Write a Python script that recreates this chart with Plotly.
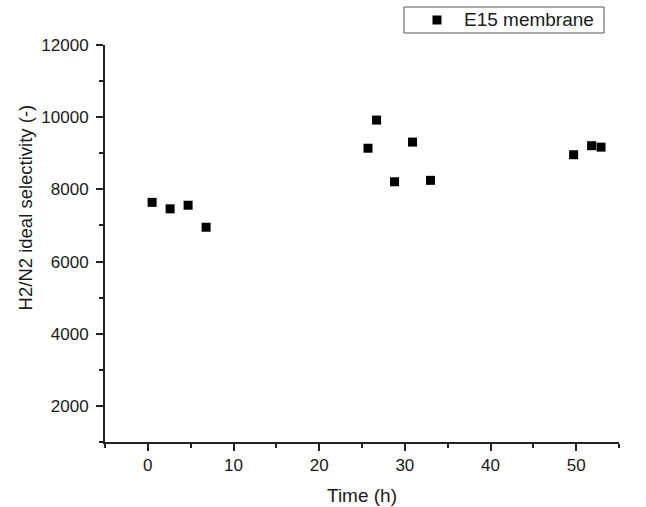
import plotly.graph_objects as go

# Time on stream (h) and measured H2/N2 ideal selectivity for the E15 membrane
time_h = [0.5, 2.6, 4.7, 6.8, 25.7, 26.7, 28.8, 30.9, 33.0, 49.7, 51.8, 52.9]
selectivity = [7640, 7460, 7560, 6950, 9140, 9920, 8210, 9310, 8250, 8960, 9210, 9170]
series_name = "E15 membrane"

x_ticks = [0, 10, 20, 30, 40, 50]
y_ticks = [2000, 4000, 6000, 8000, 10000, 12000]

font_family = "Liberation Sans, Arial, sans-serif"
axis_color = "#222222"
text_color = "#1a1a1a"

fig = go.Figure()
fig.add_trace(go.Scatter(
    x=time_h, y=selectivity, mode="markers", name=series_name, showlegend=False,
    marker=dict(symbol="square", size=9, color="black", line=dict(width=0)),
))

axis_common = dict(
    showline=True, linecolor=axis_color, linewidth=2,
    ticks="outside", ticklen=7, tickwidth=2, tickcolor=axis_color,
    showgrid=False, zeroline=False, mirror=False, automargin=False,
    tickfont=dict(family=font_family, size=17, color=text_color),
    minor=dict(ticks="outside", ticklen=4, tickwidth=1.5, tickcolor=axis_color, showgrid=False),
)

fig.update_xaxes(
    range=[-5, 55], tickvals=x_ticks, minor_dtick=5,
    title=dict(text="Time (h)", font=dict(family=font_family, size=19, color=text_color), standoff=14),
    **axis_common,
)
fig.update_yaxes(
    range=[1000, 12000], tickvals=y_ticks, minor_dtick=1000, tickformat="d",
    ticklabelstandoff=4,
    **axis_common,
)

# y-axis title placed as a rotated annotation
fig.add_annotation(
    text="H2/N2 ideal selectivity (-)", textangle=-90,
    xref="paper", yref="paper", x=-0.1556, y=0.591,
    xanchor="center", yanchor="middle", showarrow=False,
    font=dict(family=font_family, size=18.5, color=text_color),
)

# Compact legend box above the plot area: frame, symbol and label
fig.add_shape(type="rect", xref="paper", yref="paper",
              x0=0.5817, x1=0.9708, y0=1.0302, y1=1.0957,
              line=dict(color="#555555", width=1), fillcolor="white", layer="above")
fig.add_shape(type="rect", xref="paper", yref="paper",
              x0=0.6459 - 0.00875, x1=0.6459 + 0.00875,
              y0=1.0630 - 0.01134, y1=1.0630 + 0.01134,
              line=dict(width=0), fillcolor="black", layer="above")
fig.add_annotation(
    text=series_name, xref="paper", yref="paper", x=0.6945, y=1.0635,
    xanchor="left", yanchor="middle", showarrow=False,
    font=dict(family=font_family, size=19, color=text_color),
)

fig.update_layout(
    width=646, height=507,
    margin=dict(l=105, r=27, t=45, b=65),
    plot_bgcolor="white", paper_bgcolor="white",
)

fig.write_html("out.html")
